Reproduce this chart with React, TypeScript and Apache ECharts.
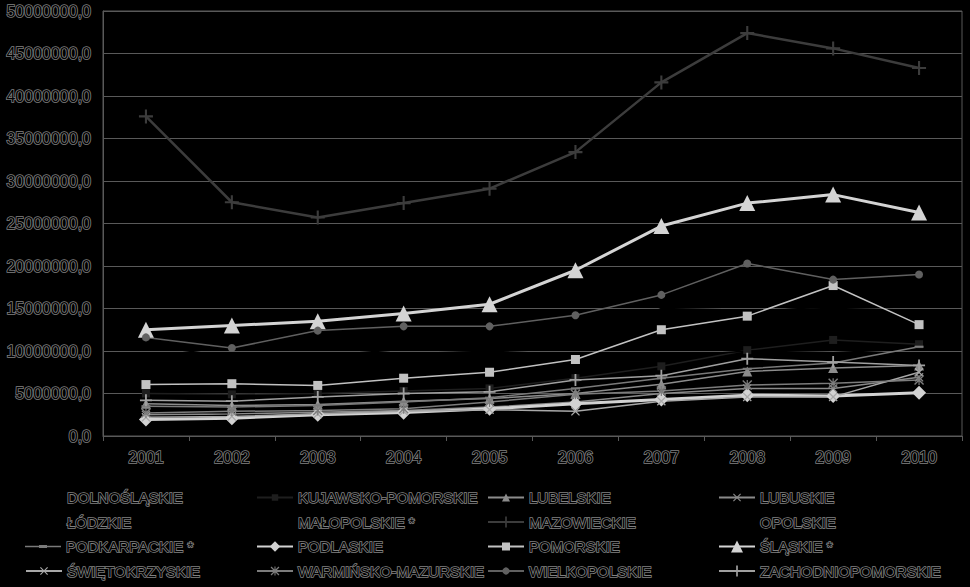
import React, { useEffect, useRef } from 'react';
import * as echarts from 'echarts';

const years = ['2001', '2002', '2003', '2004', '2005', '2006', '2007', '2008', '2009', '2010'];
const yTicks = { min: 0, max: 50000000, interval: 5000000 };

const dolnoslaskie = [9200000, 10600000, 10800000, 10200000, 9900000, 10300000, 15000000, 15200000, 15000000, 14800000];
const kujawskoPomorskie = [5000000, 4900000, 5000000, 5300000, 5600000, 6800000, 8200000, 10100000, 11300000, 10800000];
const lubelskie = [3800000, 3600000, 3700000, 4100000, 4400000, 5000000, 6100000, 7600000, 8000000, 8300000];
const lubuskie = [2500000, 2600000, 2800000, 3000000, 3400000, 4000000, 5000000, 5600000, 5600000, 6900000];
const lodzkie = [6500000, 6800000, 6900000, 7200000, 7500000, 8200000, 9300000, 10000000, 9800000, 10300000];
const malopolskie = [8500000, 8800000, 9400000, 10200000, 10000000, 11500000, 12500000, 14500000, 15300000, 16000000];
const mazowieckie = [37600000, 27500000, 25700000, 27400000, 29100000, 33400000, 41600000, 47400000, 45600000, 43300000];
const opolskie = [2300000, 2400000, 2500000, 2600000, 2900000, 3100000, 3600000, 4000000, 4100000, 4300000];
const podkarpackie = [3500000, 3400000, 3600000, 4000000, 4500000, 5600000, 6800000, 7900000, 8600000, 10500000];
const podlaskie = [1950000, 2100000, 2500000, 2750000, 3200000, 3800000, 4300000, 4800000, 4700000, 5100000];
const pomorskie = [6050000, 6150000, 5950000, 6800000, 7500000, 9000000, 12500000, 14100000, 17700000, 13100000];
const slaskie = [12500000, 13000000, 13500000, 14400000, 15500000, 19500000, 24700000, 27400000, 28400000, 26300000];
const swietokrzyskie = [2200000, 2300000, 2600000, 2900000, 3100000, 2900000, 4100000, 4600000, 4600000, 7500000];
const warminskoMazurskie = [2700000, 2900000, 3000000, 3200000, 4000000, 4900000, 5300000, 6000000, 6200000, 6600000];
const wielkopolskie = [11600000, 10350000, 12400000, 12900000, 12900000, 14200000, 16600000, 20300000, 18400000, 19000000];
const zachodniopomorskie = [4200000, 4100000, 4600000, 5000000, 5200000, 6600000, 7100000, 9100000, 8700000, 8300000];

const PLUS = 'path://M4.25,0H5.75V4.25H10V5.75H5.75V10H4.25V5.75H0V4.25H4.25Z';
const CROSS = 'path://M1,0L5,4L9,0L10,1L6,5L10,9L9,10L5,6L1,10L0,9L4,5L0,1Z';
const STAR = 'path://M1,0L5,4L9,0L10,1L6,5L10,9L9,10L5,6L1,10L0,9L4,5L0,1ZM4.4,0H5.6V10H4.4Z';
const DASH = 'path://M0,0H10V2.4H0Z';
const DASH_LEGEND = 'path://M0,0.7H36V2.1H0ZM14,0H22V2.8H14Z';

type S = {
  name: string;
  data: number[];
  color: string;
  width: number;
  symbol: string;
  size: number;
  legendH: number;
  legendIcon?: string;
};

const seriesDefs: S[] = [
  { name: 'DOLNOŚLĄSKIE', data: dolnoslaskie, color: '#000000', width: 1.5, symbol: 'none', size: 0, legendH: 8 },
  { name: 'KUJAWSKO-POMORSKIE', data: kujawskoPomorskie, color: '#1e1e1e', width: 1.5, symbol: 'rect', size: 8, legendH: 8 },
  { name: 'LUBELSKIE', data: lubelskie, color: '#8c8c8c', width: 1.5, symbol: 'triangle', size: 10, legendH: 10 },
  { name: 'LUBUSKIE', data: lubuskie, color: '#8a8a8a', width: 1.5, symbol: CROSS, size: 9, legendH: 10 },
  { name: 'ŁÓDZKIE', data: lodzkie, color: '#000000', width: 1.5, symbol: 'none', size: 0, legendH: 8 },
  { name: 'MAŁOPOLSKIE *', data: malopolskie, color: '#000000', width: 1.5, symbol: 'none', size: 0, legendH: 8 },
  { name: 'MAZOWIECKIE', data: mazowieckie, color: '#3c3c3c', width: 2.5, symbol: PLUS, size: 14, legendH: 14 },
  { name: 'OPOLSKIE', data: opolskie, color: '#000000', width: 1.5, symbol: 'none', size: 0, legendH: 8 },
  { name: 'PODKARPACKIE *', data: podkarpackie, color: '#7a7a7a', width: 1.5, symbol: DASH, size: 9, legendH: 3, legendIcon: DASH_LEGEND },
  { name: 'PODLASKIE', data: podlaskie, color: '#d2d2d2', width: 3, symbol: 'diamond', size: 14, legendH: 13 },
  { name: 'POMORSKIE', data: pomorskie, color: '#c2c2c2', width: 1.5, symbol: 'rect', size: 9, legendH: 10 },
  { name: 'ŚLĄSKIE *', data: slaskie, color: '#d4d4d4', width: 3, symbol: 'triangle', size: 16, legendH: 15 },
  { name: 'ŚWIĘTOKRZYSKIE', data: swietokrzyskie, color: '#a8a8a8', width: 1.5, symbol: CROSS, size: 9, legendH: 10 },
  { name: 'WARMIŃSKO-MAZURSKIE', data: warminskoMazurskie, color: '#7c7c7c', width: 1.5, symbol: STAR, size: 10, legendH: 11 },
  { name: 'WIELKOPOLSKIE', data: wielkopolskie, color: '#606060', width: 1.5, symbol: 'circle', size: 8, legendH: 9 },
  { name: 'ZACHODNIOPOMORSKIE', data: zachodniopomorskie, color: '#a0a0a0', width: 1.5, symbol: PLUS, size: 12, legendH: 14 },
];

const outlineText = {
  color: '#000000',
  textBorderColor: '#808080',
  textBorderWidth: 1.6,
  fontFamily: 'Liberation Sans, Arial, sans-serif',
};

const legendColLeft = [25, 256, 487, 718];
const legendRowCenter = [496.7, 521.2, 545.7, 570.2];
const legendLineH = 15;

export default function App() {
  const ref = useRef<HTMLDivElement>(null);
  useEffect(() => {
    if (!ref.current) return;
    const chart = echarts.init(ref.current, undefined, { renderer: 'svg' });
    chart.setOption({
      animation: false,
      backgroundColor: '#000000',
      grid: {
        left: 103,
        right: 8,
        top: 11,
        bottom: 151,
        show: true,
        borderColor: '#595959',
        borderWidth: 1,
        backgroundColor: 'transparent',
      },
      legend: seriesDefs.map((s, i) => ({
        orient: 'horizontal',
        left: legendColLeft[i % 4],
        top: legendRowCenter[Math.floor(i / 4)] - Math.max(s.legendH, legendLineH) / 2,
        padding: 0,
        itemWidth: 36,
        itemHeight: s.legendH,
        symbolKeepAspect: true,
        selectedMode: false,
        data: [s.legendIcon ? { name: s.name, icon: s.legendIcon } : s.name],
        textStyle: { ...outlineText, fontSize: 15, lineHeight: legendLineH },
      })),
      xAxis: {
        type: 'category',
        data: years,
        boundaryGap: true,
        axisLine: { show: true, lineStyle: { color: '#595959', width: 1 } },
        axisTick: { show: true, length: 5, lineStyle: { color: '#595959' } },
        axisLabel: { ...outlineText, fontSize: 16, margin: 13 },
        splitLine: { show: false },
      },
      yAxis: {
        type: 'value',
        min: yTicks.min,
        max: yTicks.max,
        interval: yTicks.interval,
        axisLine: { show: true, lineStyle: { color: '#595959', width: 1 } },
        axisTick: { show: false },
        axisLabel: {
          ...outlineText,
          fontSize: 16,
          margin: 12,
          formatter: (v: number) => `${v},0`,
        },
        splitLine: { show: true, lineStyle: { color: '#595959', width: 1 } },
      },
      series: seriesDefs.map((s) => ({
        name: s.name,
        type: 'line',
        data: s.data,
        symbol: s.symbol,
        symbolSize: s.size,
        symbolKeepAspect: true,
        showSymbol: s.symbol !== 'none',
        lineStyle: { color: s.color, width: s.width },
        itemStyle: { color: s.color, borderWidth: 0 },
        emphasis: { disabled: true },
      })),
    });
    return () => chart.dispose();
  }, []);
  return (
    <div
      ref={ref}
      style={{
        position: 'fixed',
        left: 0,
        top: 0,
        width: 970,
        height: 587,
        background: '#000',
        opacity: 0.999,
      }}
    />
  );
}
